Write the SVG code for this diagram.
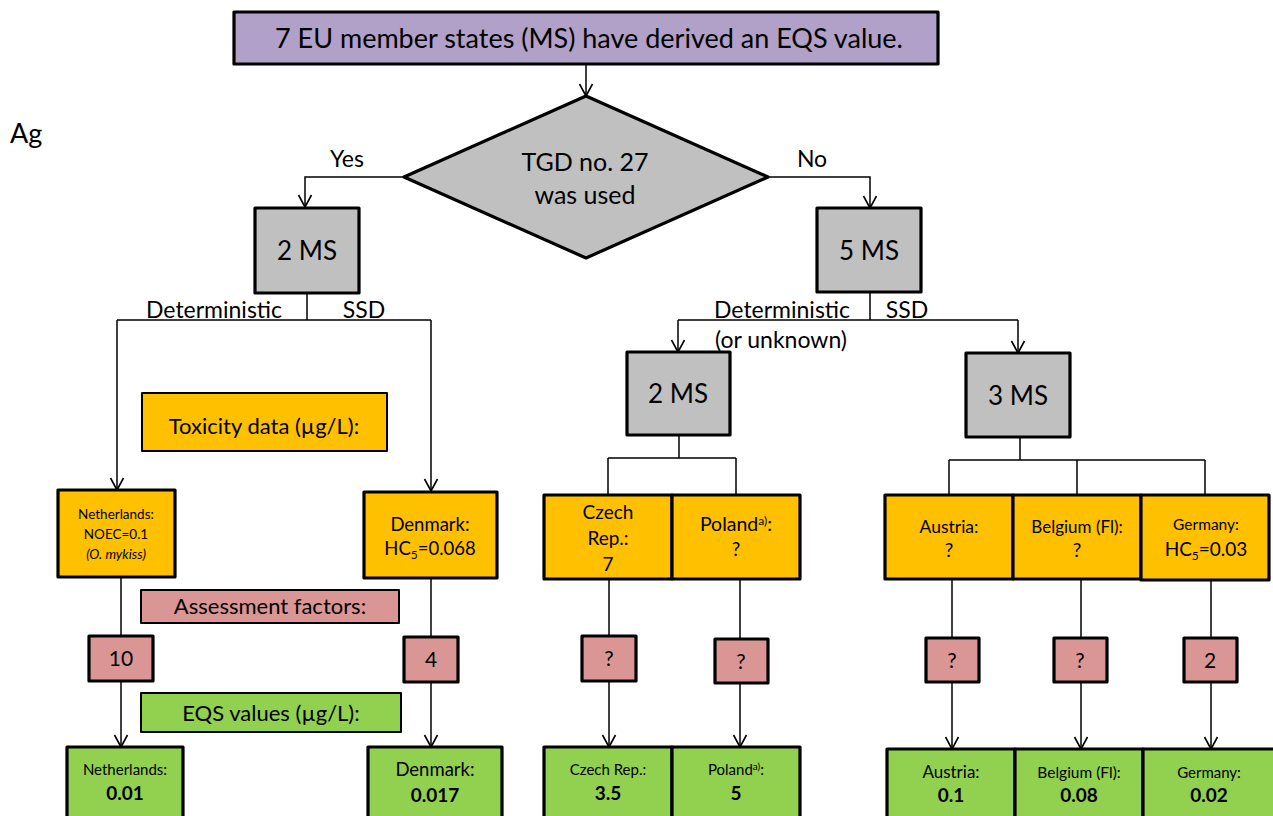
<svg xmlns="http://www.w3.org/2000/svg" width="1273" height="816" viewBox="0 0 1273 816">
  <defs>
    <marker id="arr" markerWidth="16" markerHeight="16" refX="14" refY="8" orient="auto" markerUnits="userSpaceOnUse" viewBox="0 0 16 16">
      <path d="M2,1.5 L14,8 L2,14.5" fill="none" stroke="#000" stroke-width="1.6"/>
    </marker>
  </defs>
  <style>
    text { font-family: Lato, "Open Sans", "Liberation Sans", sans-serif; fill: #000; text-anchor: middle; }
    .box { stroke: #000; stroke-width: 3.2; stroke-linejoin: round; }
    .purple { fill: #B1A0C7; }
    .gray { fill: #C0C0C0; }
    .orange { fill: #FFC000; }
    .pink { fill: #DA9694; }
    .green { fill: #92D050; }
    .thin { stroke-width: 2; }
    .conn path { fill: none; stroke: #000; stroke-width: 1.5; }
    .lbl { font-size: 22px; }
    .af { font-size: 21px; }
    .b { font-weight: bold; font-size: 19px; }
  </style>

  <rect width="1273" height="816" fill="#fff"/>

  <!-- substance label -->
  <text id="substance" x="10" y="143" style="font-size:27px;text-anchor:start">Ag</text>

  <!-- connectors -->
  <g id="connectors" class="conn">
    <path d="M586,64 V96" marker-end="url(#arr)"/>
    <path d="M404,177 H305 V207" marker-end="url(#arr)"/>
    <path d="M768,177 H870 V208" marker-end="url(#arr)"/>
    <!-- left branch -->
    <path d="M307,293 V320"/>
    <path d="M117,320 H431"/>
    <path d="M117,320 V490" marker-end="url(#arr)"/>
    <path d="M431,320 V491" marker-end="url(#arr)"/>
    <!-- right branch -->
    <path d="M870,292 V320"/>
    <path d="M678,320 H1018"/>
    <path d="M678,320 V352" marker-end="url(#arr)"/>
    <path d="M1018,320 V353" marker-end="url(#arr)"/>
    <path d="M679,435 V458"/>
    <path d="M608,458 H736 M608,458 V495 M736,458 V495"/>
    <path d="M1020,437 V460"/>
    <path d="M949,460 H1205 M949,460 V495 M1077,460 V495 M1205,460 V495"/>
    <!-- toxicity value to assessment factor to EQS -->
    <path d="M121,577 V636"/>
    <path d="M121,681 V747" marker-end="url(#arr)"/>
    <path d="M431,578 V637"/>
    <path d="M431,682 V747" marker-end="url(#arr)"/>
    <path d="M609,579 V636"/>
    <path d="M609,681 V747" marker-end="url(#arr)"/>
    <path d="M740,579 V639"/>
    <path d="M740,683 V747" marker-end="url(#arr)"/>
    <path d="M952,579 V638"/>
    <path d="M952,682 V749" marker-end="url(#arr)"/>
    <path d="M1081,579 V638"/>
    <path d="M1081,682 V749" marker-end="url(#arr)"/>
    <path d="M1211,580 V638"/>
    <path d="M1211,682 V749" marker-end="url(#arr)"/>
  </g>

  <!-- branch labels -->
  <g id="branch-labels" style="font-size:23px">
    <text x="347" y="167">Yes</text>
    <text x="812" y="167">No</text>
    <text x="214" y="318">Deterministic</text>
    <text x="364" y="318">SSD</text>
    <text x="782" y="318">Deterministic</text>
    <text x="781" y="348">(or unknown)</text>
    <text x="907" y="318">SSD</text>
  </g>

  <g id="start">
    <rect class="box purple" x="234" y="12" width="704" height="52"/>
    <text x="589" y="48" style="font-size:27px">7 EU member states (MS) have derived an EQS value.</text>
  </g>

  <g id="decision">
    <polygon class="box gray" points="586,96 768,177 586,258 404,177"/>
    <text x="585" y="171" style="font-size:25px">TGD no. 27</text>
    <text x="585" y="204" style="font-size:25px">was used</text>
  </g>

  <g id="ms-yes">
    <rect class="box gray" x="255" y="208" width="104" height="85"/>
    <text x="307" y="260" style="font-size:26px">2 MS</text>
  </g>
  <g id="ms-no">
    <rect class="box gray" x="817" y="208" width="104" height="84"/>
    <text x="869" y="260" style="font-size:26px">5 MS</text>
  </g>
  <g id="ms-det">
    <rect class="box gray" x="627" y="352" width="103" height="83"/>
    <text x="678" y="403" style="font-size:26px">2 MS</text>
  </g>
  <g id="ms-ssd">
    <rect class="box gray" x="966" y="353" width="104" height="84"/>
    <text x="1018" y="405" style="font-size:26px">3 MS</text>
  </g>

  <!-- legend boxes -->
  <g id="legend-toxicity">
    <rect class="box orange thin" x="142" y="393" width="245" height="58"/>
    <text x="264" y="434" class="lbl">Toxicity data (µg/L):</text>
  </g>
  <g id="legend-af">
    <rect class="box pink thin" x="141" y="590" width="258" height="33"/>
    <text x="270" y="614" class="lbl">Assessment factors:</text>
  </g>
  <g id="legend-eqs">
    <rect class="box green thin" x="141" y="693" width="260" height="39"/>
    <text x="271" y="721" class="lbl">EQS values (µg/L):</text>
  </g>

  <!-- toxicity data -->
  <g id="tox-nl">
    <rect class="box orange" x="58" y="490" width="117" height="87"/>
    <text x="116" y="519" style="font-size:13.5px">Netherlands:</text>
    <text x="116" y="539" style="font-size:13.5px">NOEC=0.1</text>
    <text x="116" y="559" style="font-size:13.5px;font-style:italic">(O. mykiss)</text>
  </g>
  <g id="tox-dk">
    <rect class="box orange" x="364" y="492" width="133" height="86"/>
    <text x="430" y="531" style="font-size:18.5px">Denmark:</text>
    <text x="430" y="555" style="font-size:18.5px">HC<tspan dy="4" style="font-size:12px">5</tspan><tspan dy="-4">=0.068</tspan></text>
  </g>
  <g id="tox-cz">
    <rect class="box orange" x="544" y="495" width="128" height="84"/>
    <text x="608" y="519" style="font-size:19px">Czech</text>
    <text x="608" y="545" style="font-size:19px">Rep.:</text>
    <text x="608" y="571" style="font-size:19px">7</text>
  </g>
  <g id="tox-pl">
    <rect class="box orange" x="672" y="495" width="128" height="84"/>
    <text x="736" y="531" style="font-size:19.5px">Poland<tspan dy="-6" style="font-size:12px">a)</tspan><tspan dy="6">:</tspan></text>
    <text x="736" y="556" style="font-size:19px">?</text>
  </g>
  <g id="tox-at">
    <rect class="box orange" x="885" y="495" width="128" height="84"/>
    <text x="949" y="533" style="font-size:17.5px">Austria:</text>
    <text x="949" y="557" style="font-size:19px">?</text>
  </g>
  <g id="tox-be">
    <rect class="box orange" x="1013" y="495" width="128" height="84"/>
    <text x="1077" y="533" style="font-size:17px">Belgium (Fl):</text>
    <text x="1077" y="557" style="font-size:19px">?</text>
  </g>
  <g id="tox-de">
    <rect class="box orange" x="1141" y="495" width="128" height="85"/>
    <text x="1206" y="530" style="font-size:15.5px">Germany:</text>
    <text x="1206" y="556" style="font-size:19px">HC<tspan dy="4" style="font-size:12px">5</tspan><tspan dy="-4">=0.03</tspan></text>
  </g>

  <!-- assessment factors -->
  <g id="af-nl">
    <rect class="box pink" x="89" y="636" width="64" height="45"/>
    <text x="121" y="666" class="af">10</text>
  </g>
  <g id="af-dk">
    <rect class="box pink" x="404" y="637" width="54" height="45"/>
    <text x="431" y="667" class="af">4</text>
  </g>
  <g id="af-cz">
    <rect class="box pink" x="582" y="636" width="54" height="45"/>
    <text x="609" y="666" class="af">?</text>
  </g>
  <g id="af-pl">
    <rect class="box pink" x="715" y="639" width="53" height="44"/>
    <text x="741" y="669" class="af">?</text>
  </g>
  <g id="af-at">
    <rect class="box pink" x="926" y="638" width="53" height="44"/>
    <text x="952" y="668" class="af">?</text>
  </g>
  <g id="af-be">
    <rect class="box pink" x="1054" y="638" width="53" height="44"/>
    <text x="1080" y="668" class="af">?</text>
  </g>
  <g id="af-de">
    <rect class="box pink" x="1184" y="638" width="53" height="44"/>
    <text x="1210" y="668" class="af">2</text>
  </g>

  <!-- EQS values -->
  <g id="eqs-nl">
    <rect class="box green" x="67" y="747" width="116" height="85"/>
    <text x="125" y="775" style="font-size:15px">Netherlands:</text>
    <text x="125" y="800" class="b">0.01</text>
  </g>
  <g id="eqs-dk">
    <rect class="box green" x="368" y="747" width="134" height="85"/>
    <text x="435" y="776" style="font-size:18.5px">Denmark:</text>
    <text x="435" y="802" class="b">0.017</text>
  </g>
  <g id="eqs-cz">
    <rect class="box green" x="544" y="747" width="128" height="85"/>
    <text x="608" y="775" style="font-size:15px">Czech Rep.:</text>
    <text x="608" y="800" class="b">3.5</text>
  </g>
  <g id="eqs-pl">
    <rect class="box green" x="672" y="747" width="128" height="85"/>
    <text x="736" y="775" style="font-size:15px">Poland<tspan dy="-5" style="font-size:10px">a)</tspan><tspan dy="5">:</tspan></text>
    <text x="736" y="800" class="b">5</text>
  </g>
  <g id="eqs-at">
    <rect class="box green" x="887" y="749" width="128" height="85"/>
    <text x="951" y="778" style="font-size:17px">Austria:</text>
    <text x="951" y="802" class="b">0.1</text>
  </g>
  <g id="eqs-be">
    <rect class="box green" x="1015" y="749" width="128" height="85"/>
    <text x="1079" y="778" style="font-size:15.5px">Belgium (Fl):</text>
    <text x="1079" y="802" class="b">0.08</text>
  </g>
  <g id="eqs-de">
    <rect class="box green" x="1143" y="749" width="134" height="85"/>
    <text x="1209" y="778" style="font-size:15px">Germany:</text>
    <text x="1209" y="802" class="b">0.02</text>
  </g>
</svg>
